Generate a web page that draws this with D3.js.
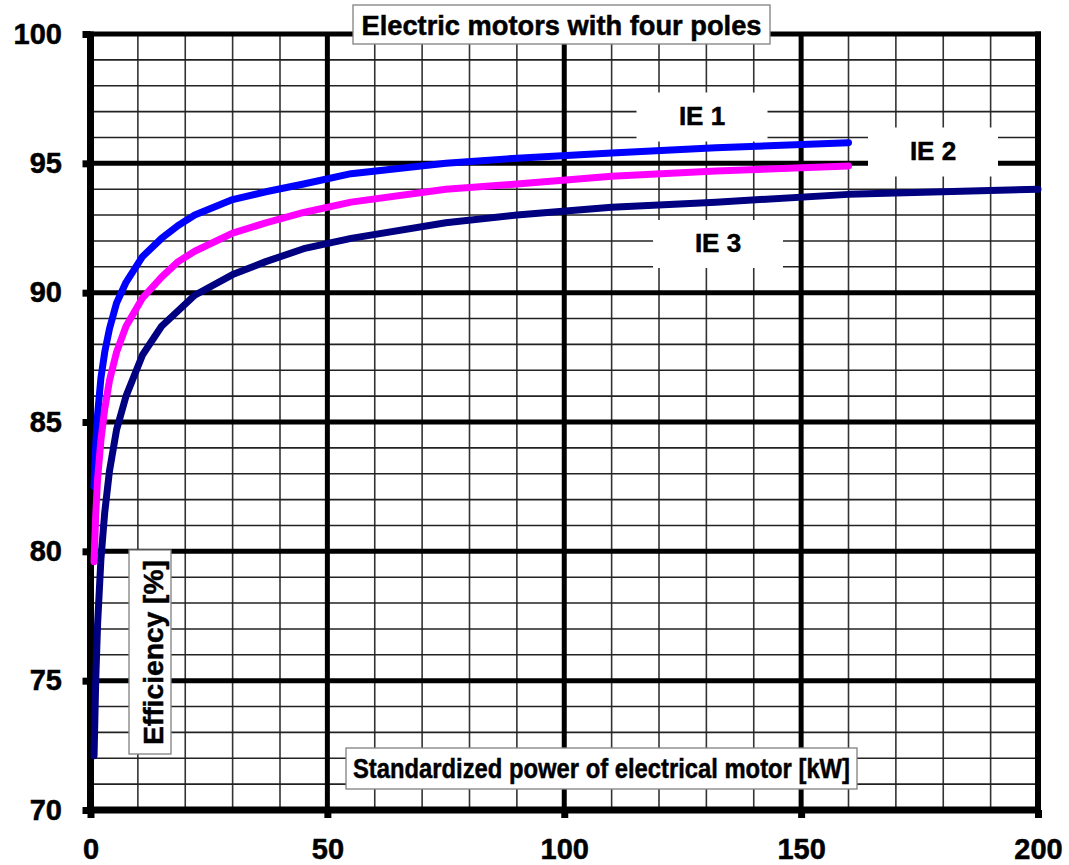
<!DOCTYPE html>
<html>
<head>
<meta charset="utf-8">
<script src="https://cdn.jsdelivr.net/npm/d3@7"></script>
<style>
  html, body { margin: 0; padding: 0; background: #fff; }
  svg { display: block; }
  text { font-family: Arial, "Liberation Sans", Helvetica, sans-serif; font-weight: bold; fill: #000; stroke: #000; stroke-width: 0.5px; }
</style>
</head>
<body>
<svg id="chart" width="1069" height="865"></svg>
<script>
// ---- data ----
const power = [0.75, 1.1, 1.5, 2.2, 3, 4, 5.5, 7.5, 11, 15, 18.5, 22, 30, 37, 45, 55, 75, 90, 110, 132, 160, 200];
const ie1 = [82.5, 84.1, 85.3, 86.7, 87.7, 88.6, 89.6, 90.4, 91.4, 92.1, 92.6, 93.0, 93.6, 93.9, 94.2, 94.6, 95.0, 95.2, 95.4, 95.6, 95.8];
const ie2 = [79.6, 81.4, 82.8, 84.3, 85.5, 86.6, 87.7, 88.7, 89.8, 90.6, 91.2, 91.6, 92.3, 92.7, 93.1, 93.5, 94.0, 94.2, 94.5, 94.7, 94.9];
const ie3 = [72.1, 75.0, 77.2, 79.7, 81.5, 83.1, 84.7, 86.0, 87.6, 88.7, 89.3, 89.9, 90.7, 91.2, 91.7, 92.1, 92.7, 93.0, 93.3, 93.5, 93.8, 94.0];
const seriesNames = ["IE 1", "IE 2", "IE 3"];
const seriesColors = ["#0000FF", "#FF00FF", "#000080"];
const xTicks = [0, 50, 100, 150, 200];
const yTicks = [70, 75, 80, 85, 90, 95, 100];
const xMinor = d3.range(0, 201, 10);
const yMinor = d3.range(70, 101, 1);
const titleText = "Electric motors with four poles";
const xLabelText = "Standardized power of electrical motor [kW]";
const yLabelText = "Efficiency [%]";

// ---- layout ----
const svg = d3.select("#chart");
const x = d3.scaleLinear().domain([0, 200]).range([90.5, 1038]);
const y = d3.scaleLinear().domain([70, 100]).range([810, 34]);

svg.append("rect").attr("width", 1069).attr("height", 865).attr("fill", "#fff");

// minor grid
const grid = svg.append("g");
grid.selectAll(".vmin").data(xMinor.filter(d => d % 50 !== 0)).join("line")
  .attr("x1", d => x(d)).attr("x2", d => x(d)).attr("y1", y(100)).attr("y2", y(70))
  .attr("stroke", "#333").attr("stroke-width", 1.6);
grid.selectAll(".hmin").data(yMinor.filter(d => d % 5 !== 0)).join("line")
  .attr("y1", d => y(d)).attr("y2", d => y(d)).attr("x1", x(0)).attr("x2", x(200))
  .attr("stroke", "#222").attr("stroke-width", 1.6);
// major grid
grid.selectAll(".vmaj").data(xTicks.filter(d => d > 0 && d < 200)).join("line")
  .attr("x1", d => x(d)).attr("x2", d => x(d)).attr("y1", y(100)).attr("y2", y(70))
  .attr("stroke", "#000").attr("stroke-width", 5);
grid.selectAll(".hmaj").data(yTicks.filter(d => d > 70 && d < 100)).join("line")
  .attr("y1", d => y(d)).attr("y2", d => y(d)).attr("x1", x(0)).attr("x2", x(200))
  .attr("stroke", "#000").attr("stroke-width", 5);
// frame
svg.append("line").attr("x1", x(0) - 3).attr("x2", x(200) + 3).attr("y1", y(100)).attr("y2", y(100)).attr("stroke", "#000").attr("stroke-width", 5);
svg.append("line").attr("x1", x(200)).attr("x2", x(200)).attr("y1", y(100) - 2.5).attr("y2", y(70)).attr("stroke", "#000").attr("stroke-width", 6);

// axes
const yAxis = d3.axisLeft(y).tickValues(yTicks).tickSize(8).tickPadding(20.5).tickFormat(d3.format("d"));
const gy = svg.append("g").attr("transform", `translate(${x(0)},0)`).call(yAxis);
const xAxis = d3.axisBottom(x).tickValues(xTicks).tickSize(8).tickPadding(20).tickFormat(d3.format("d"));
const gx = svg.append("g").attr("transform", `translate(0,${y(70)})`).call(xAxis);
[gx, gy].forEach(g => {
  g.select(".domain").remove();
  g.selectAll(".tick line").attr("stroke", "#000").attr("stroke-width", 7);
  g.selectAll(".tick text").style("font-size", "29px").style("font-family", "Arial, 'Liberation Sans', sans-serif")
    .style("font-weight", "bold").attr("fill", "#000").attr("stroke", "#000").attr("stroke-width", 0.6);
});
svg.append("line").attr("x1", x(0)).attr("x2", x(0)).attr("y1", y(100) - 2.5).attr("y2", y(70) + 3.5).attr("stroke", "#000").attr("stroke-width", 7);
svg.append("line").attr("x1", x(0) - 3.5).attr("x2", x(200) + 3).attr("y1", y(70)).attr("y2", y(70)).attr("stroke", "#000").attr("stroke-width", 7);

// series label boxes (white, no border)
const labelPos = [
  { cx: 702, cy: 117, w: 131, h: 49, base: 125 },
  { cx: 933, cy: 152, w: 130, h: 49, base: 160 },
  { cx: 718, cy: 244, w: 130, h: 48, base: 252 }
];
seriesNames.forEach((name, i) => {
  const p = labelPos[i];
  svg.append("rect").attr("x", p.cx - p.w / 2).attr("y", p.cy - p.h / 2).attr("width", p.w).attr("height", p.h).attr("fill", "#fff");
  svg.append("text").attr("x", p.cx).attr("y", p.base).attr("text-anchor", "middle").style("font-size", "26px").text(name);
});

// bordered text boxes
function box(rx, ry, rw, rh) {
  svg.append("rect").attr("x", rx).attr("y", ry).attr("width", rw).attr("height", rh)
    .attr("fill", "#fff").attr("stroke", "#808080").attr("stroke-width", 1.3);
}
box(353, 5, 417, 39);
svg.append("text").attr("x", 561.5).attr("y", 35).attr("text-anchor", "middle").style("font-size", "27px")
  .attr("textLength", 400).attr("lengthAdjust", "spacingAndGlyphs").text(titleText);

box(346, 748, 511, 41);
svg.append("text").attr("x", 601.5).attr("y", 778).attr("text-anchor", "middle").style("font-size", "28px")
  .attr("textLength", 497).attr("lengthAdjust", "spacingAndGlyphs").text(xLabelText);

box(129, 550, 42, 204);
svg.append("text").attr("transform", `translate(162.5,652.5) rotate(-90)`).attr("text-anchor", "middle").style("font-size", "28px")
  .attr("textLength", 185).attr("lengthAdjust", "spacingAndGlyphs").text(yLabelText);

// curves
const line = d3.line().x(d => x(d[0])).y(d => y(d[1]));
[ie1, ie2, ie3].forEach((vals, i) => {
  const pts = vals.map((v, j) => [power[j], v]);
  svg.append("path").attr("d", line(pts)).attr("fill", "none")
    .attr("stroke", seriesColors[i]).attr("stroke-width", 7)
    .attr("stroke-linecap", "round").attr("stroke-linejoin", "round");
});
</script>
</body>
</html>
